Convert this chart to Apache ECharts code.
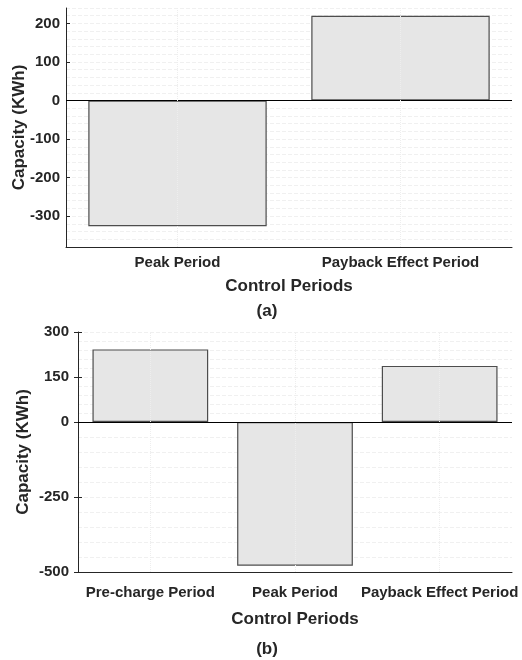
<!DOCTYPE html>
<html>
<head>
<meta charset="utf-8">
<script src="https://cdn.jsdelivr.net/npm/echarts@6/dist/echarts.min.js"></script>
<style>
    html, body { margin: 0; padding: 0; background: #ffffff; }
    #chart { width: 522px; height: 660px; }
</style>
</head>
<body>
<div id="chart"></div>
<script>
// (a) two control periods
var periodsA = ['Peak Period', 'Payback Effect Period'];
var capacityA = [-326, 220];
var ticksA = [-300, -200, -100, 0, 100, 200];

// (b) three control periods
var periodsB = ['Pre-charge Period', 'Peak Period', 'Payback Effect Period'];
var capacityB = [242, -479, 187];
var ticksB = [-500, -250, 0, 150, 300];

var textColor = '#262626';
var gridColor = '#f0f0f0';
var fontFam = '"Liberation Sans", Arial, sans-serif';

function barSeries(xi, yi, values, cats) {
    return {
        type: 'bar',
        xAxisIndex: xi,
        yAxisIndex: yi,
        data: values,
        barWidth: '80%',
        z: 3,
        itemStyle: { color: '#e6e6e6', borderColor: '#4d4d4d', borderWidth: 1.2 },
        markLine: {
            silent: true,
            symbol: 'none',
            label: { show: false },
            animation: false,
            data: [{ yAxis: 0, lineStyle: { color: '#000000', width: 1, type: 'solid' } }].concat(
                cats.map(function (c) {
                    return { xAxis: c, lineStyle: { color: '#eeeeee', width: 1, type: 'dotted' } };
                })
            )
        }
    };
}

// hidden axes only used to draw the faint minor grid
function gridYAxis(gi, min, max, step) {
    return {
        gridIndex: gi, type: 'value', min: min, max: max, interval: step, position: 'left',
        axisLine: { show: false }, axisTick: { show: false }, axisLabel: { show: false },
        splitLine: { show: true, lineStyle: { color: gridColor, width: 1, type: 'dashed' } }
    };
}
function gridXAxis(gi) {
    return {
        gridIndex: gi, type: 'category', data: [''],
        axisLine: { show: false }, axisTick: { show: false }, axisLabel: { show: false },
        splitLine: { show: false }
    };
}

var chart = echarts.init(document.getElementById('chart'));

var nameStyle = { fontSize: 17, fontWeight: 'bold', color: textColor };
var labelStyle = { fontSize: 15, fontWeight: 'bold', color: textColor };

var option = {
    animation: false,
    textStyle: { fontFamily: fontFam },
    title: [
        { text: '(a)', left: 262, top: 298, textAlign: 'center',
          textStyle: { fontSize: 17, fontWeight: 'bold', color: textColor, fontFamily: fontFam } },
        { text: '(b)', left: 262, top: 636, textAlign: 'center',
          textStyle: { fontSize: 17, fontWeight: 'bold', color: textColor, fontFamily: fontFam } }
    ],
    grid: [
        { left: 66, top: 8, width: 446, height: 239, outerBoundsMode: 'none' },
        { left: 78, top: 332, width: 434, height: 240, outerBoundsMode: 'none' },
        { left: 78, top: 332, width: 434, height: 90, outerBoundsMode: 'none' },
        { left: 78, top: 422, width: 434, height: 150, outerBoundsMode: 'none' }
    ],
    xAxis: [
        {
            gridIndex: 0, type: 'category', position: 'bottom', data: periodsA,
            name: 'Control Periods', nameLocation: 'middle', nameGap: 31, nameTextStyle: nameStyle,
            axisLine: { onZero: false, lineStyle: { color: textColor, width: 1 } },
            axisTick: { inside: true, alignWithLabel: true, length: 4, lineStyle: { color: textColor } },
            axisLabel: Object.assign({ margin: 8, interval: 0, hideOverlap: false }, labelStyle),
            splitLine: { show: false }
        },
        {
            gridIndex: 1, type: 'category', position: 'bottom', data: periodsB,
            name: 'Control Periods', nameLocation: 'middle', nameGap: 39, nameTextStyle: nameStyle,
            axisLine: { onZero: false, lineStyle: { color: textColor, width: 1 } },
            axisTick: { inside: false, alignWithLabel: true, length: 4, lineStyle: { color: textColor } },
            axisLabel: Object.assign({ margin: 13, interval: 0, hideOverlap: false }, labelStyle),
            splitLine: { show: false }
        },
        {
            // inner half of the crossing ticks in (b)
            gridIndex: 1, type: 'category', position: 'bottom', data: periodsB,
            axisLine: { show: false },
            axisTick: { inside: true, alignWithLabel: true, length: 4, lineStyle: { color: textColor } },
            axisLabel: { show: false },
            splitLine: { show: false }
        },
        gridXAxis(2),
        gridXAxis(3)
    ],
    yAxis: [
        {
            gridIndex: 0, type: 'value', min: -380, max: 240, interval: 20,
            name: 'Capacity (KWh)', nameLocation: 'middle', nameGap: 38, nameMoveOverlap: false,
            nameTextStyle: nameStyle,
            axisLine: { show: true, lineStyle: { color: textColor, width: 1 } },
            axisTick: { show: true, inside: true, length: 4, customValues: ticksA, lineStyle: { color: textColor } },
            axisLabel: Object.assign({ margin: 6, customValues: ticksA }, labelStyle),
            splitLine: { show: false }
        },
        {
            gridIndex: 1, type: 'value', min: -500, max: 300, interval: 50,
            name: 'Capacity (KWh)', nameLocation: 'middle', nameGap: 46, nameMoveOverlap: false,
            nameTextStyle: Object.assign({ padding: [0, 0, 0, 0] }, nameStyle),
            axisLine: { show: true, lineStyle: { color: textColor, width: 1 } },
            axisTick: { show: true, inside: false, length: 4, customValues: ticksB, lineStyle: { color: textColor } },
            axisLabel: Object.assign({ margin: 9, customValues: ticksB }, labelStyle),
            splitLine: { show: false }
        },
        {
            // inner half of the crossing ticks in (b)
            gridIndex: 1, type: 'value', min: -500, max: 300, interval: 50, position: 'left',
            axisLine: { show: false },
            axisTick: { show: true, inside: true, length: 4, customValues: ticksB, lineStyle: { color: textColor } },
            axisLabel: { show: false },
            splitLine: { show: false }
        },
        gridYAxis(0, -380, 240, 20),
        gridYAxis(2, 0, 300, 30),
        gridYAxis(3, -500, 0, 50)
    ],
    series: [
        barSeries(0, 0, capacityA, periodsA),
        barSeries(1, 1, capacityB, periodsB)
    ]
};

option && chart.setOption(option);
</script>
</body>
</html>
